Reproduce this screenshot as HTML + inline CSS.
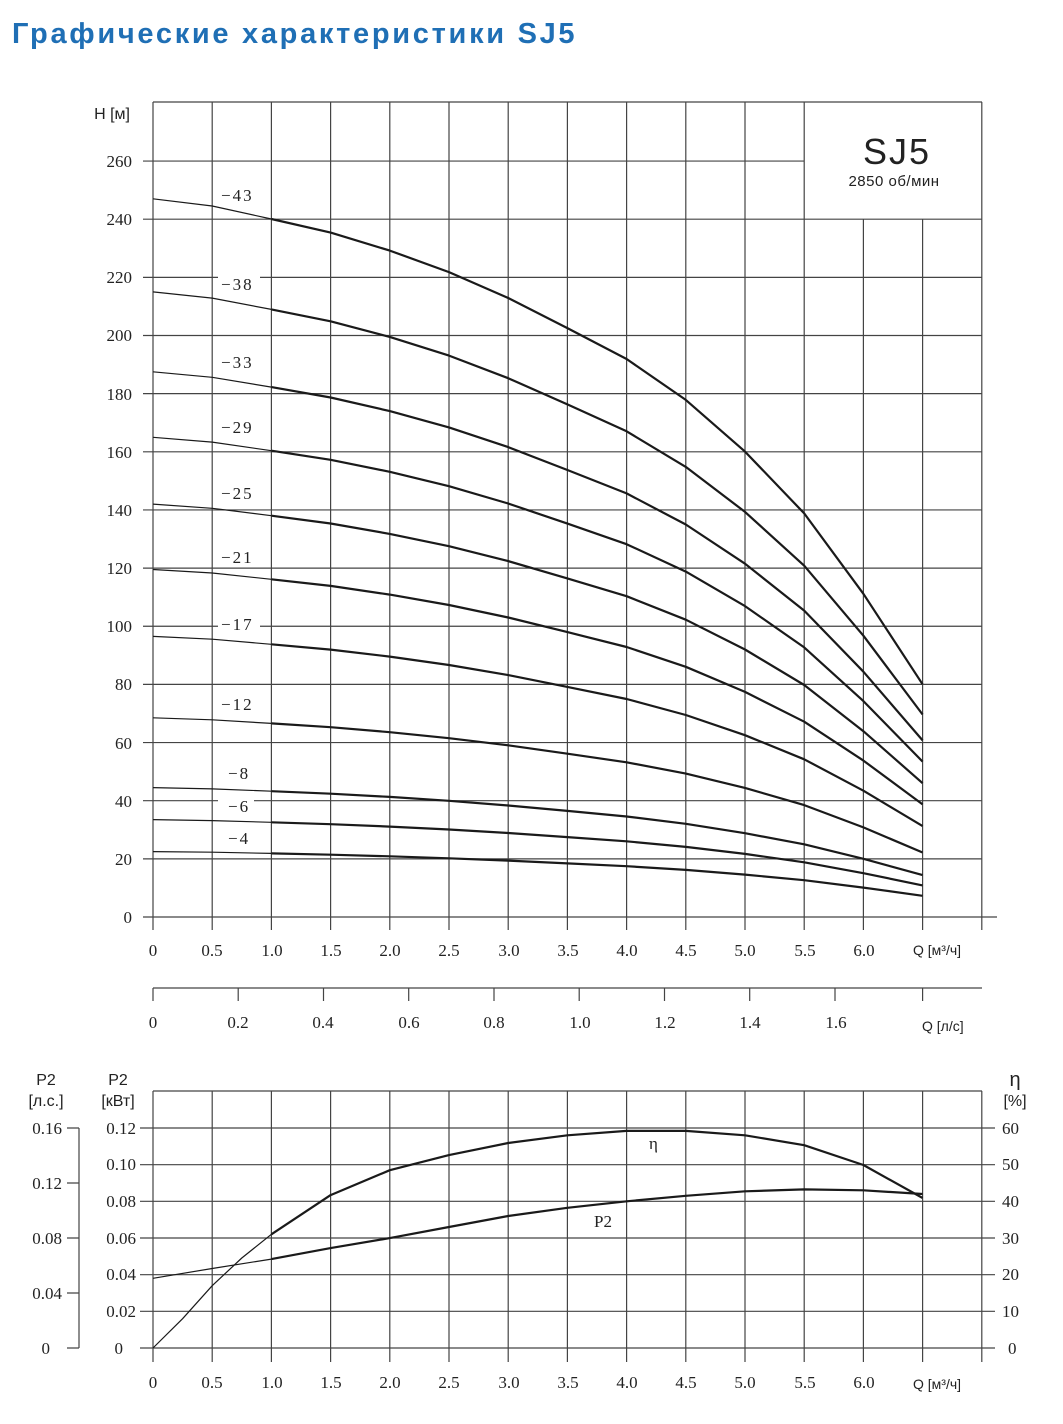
<!DOCTYPE html>
<html><head><meta charset="utf-8"><style>
body{margin:0;background:#fff;width:1063px;height:1424px;overflow:hidden}
svg{display:block}
.s{font-family:"Liberation Serif","DejaVu Serif",serif;font-size:17px;fill:#222}
.a{font-family:"Liberation Sans","DejaVu Sans",sans-serif;fill:#222}
</style></head><body>
<svg width="1063" height="1424" viewBox="0 0 1063 1424" xmlns="http://www.w3.org/2000/svg">
<text x="12" y="43" font-family="'Liberation Sans','DejaVu Sans',sans-serif" font-weight="bold" font-size="29" letter-spacing="2.7" fill="#1f6fb5">Графические характеристики SJ5</text>
<g stroke="#444" stroke-width="1.2" fill="none">
<path d="M153,102H982M153,102V917
M212.2,102V930M271.4,102V930M330.6,102V930M389.8,102V930M449,102V930M508.2,102V930M567.4,102V930M626.6,102V930M685.8,102V930M745,102V930M804.2,102V930M863.4,219V930M922.6,219V930M981.8,102V930
M143,858.85H982M143,800.7H982M143,742.55H982M143,684.4H982M143,626.25H982M143,568.1H982M143,509.95H982M143,451.8H982M143,393.65H982M143,335.5H982M143,277.35H982M143,219.2H982M143,161.05H804.2
M143,917H997M153,917V930
M153,988H982M153,988V1001M238.2,988V1001M323.5,988V1001M408.7,988V1001M494,988V1001M579.2,988V1001M664.5,988V1001M749.7,988V1001M835,988V1001M922.6,988V1001
M153,1091H982M153,1091V1362
M212.2,1091V1362M271.4,1091V1362M330.6,1091V1362M389.8,1091V1362M449,1091V1362M508.2,1091V1362M567.4,1091V1362M626.6,1091V1362M685.8,1091V1362M745,1091V1362M804.2,1091V1362M863.4,1091V1362M922.6,1091V1362M981.8,1091V1362
M140,1348H995M140,1311.3H995M140,1274.7H995M140,1238H995M140,1201.3H995M140,1164.7H995M140,1128H995
M79,1128V1348M67,1128H79M67,1183H79M67,1238H79M67,1293H79M67,1348H79"/>
</g>
<g stroke="#1a1a1a" fill="none" stroke-linejoin="round">
<g stroke-width="1.2">
<polyline points="153,198.8 212.2,206 271.4,219"/>
<polyline points="153,291.9 212.2,298.1 271.4,309.4"/>
<polyline points="153,371.8 212.2,377.3 271.4,387.1"/>
<polyline points="153,437.3 212.2,442.1 271.4,450.7"/>
<polyline points="153,504.1 212.2,508.3 271.4,515.7"/>
<polyline points="153,569.5 212.2,573 271.4,579.3"/>
<polyline points="153,636.4 212.2,639.2 271.4,644.3"/>
<polyline points="153,717.8 212.2,719.8 271.4,723.4"/>
<polyline points="153,787.6 212.2,788.9 271.4,791.2"/>
<polyline points="153,819.6 212.2,820.6 271.4,822.3"/>
<polyline points="153,851.6 212.2,852.2 271.4,853.4"/>
<polyline points="153,1348 182.6,1318.7 212.2,1285.7 241.8,1258 271.4,1234.3"/>
<polyline points="153,1278.3 212.2,1268.5 271.4,1259.1"/>
</g>
<g stroke-width="2.2">
<polyline points="271.4,219 330.6,232.6 389.8,250.6 449,272.1 508.2,298 567.4,328.1 626.6,359 685.8,399.9 745,451.6 804.2,513.4 863.4,593.8 922.6,684.3"/>
<polyline points="271.4,309.4 330.6,321.3 389.8,336.9 449,355.6 508.2,378.2 567.4,404.4 626.6,431.3 685.8,466.9 745,511.9 804.2,565.7 863.4,635.7 922.6,714.5"/>
<polyline points="271.4,387.1 330.6,397.5 389.8,411.1 449,427.4 508.2,447.1 567.4,470 626.6,493.4 685.8,524.5 745,563.7 804.2,610.6 863.4,671.7 922.6,740.4"/>
<polyline points="271.4,450.7 330.6,459.8 389.8,471.8 449,486.2 508.2,503.5 567.4,523.6 626.6,544.2 685.8,571.6 745,606.1 804.2,647.4 863.4,701.1 922.6,761.6"/>
<polyline points="271.4,515.7 330.6,523.5 389.8,533.9 449,546.2 508.2,561.1 567.4,578.4 626.6,596.2 685.8,619.7 745,649.5 804.2,685 863.4,731.2 922.6,783.2"/>
<polyline points="271.4,579.3 330.6,585.9 389.8,594.6 449,605 508.2,617.5 567.4,632.1 626.6,647 685.8,666.8 745,691.9 804.2,721.7 863.4,760.6 922.6,804.4"/>
<polyline points="271.4,644.3 330.6,649.6 389.8,656.6 449,665 508.2,675.1 567.4,686.9 626.6,699 685.8,715 745,735.2 804.2,759.3 863.4,790.7 922.6,826.1"/>
<polyline points="271.4,723.4 330.6,727.2 389.8,732.2 449,738.2 508.2,745.3 567.4,753.7 626.6,762.3 685.8,773.6 745,787.9 804.2,805.1 863.4,827.4 922.6,852.5"/>
<polyline points="271.4,791.2 330.6,793.7 389.8,796.9 449,800.8 508.2,805.5 567.4,810.9 626.6,816.5 685.8,823.8 745,833.2 804.2,844.3 863.4,858.8 922.6,875.1"/>
<polyline points="271.4,822.3 330.6,824.2 389.8,826.6 449,829.5 508.2,833 567.4,837.1 626.6,841.3 685.8,846.9 745,853.9 804.2,862.3 863.4,873.2 922.6,885.4"/>
<polyline points="271.4,853.4 330.6,854.7 389.8,856.3 449,858.3 508.2,860.6 567.4,863.4 626.6,866.2 685.8,869.9 745,874.6 804.2,880.2 863.4,887.6 922.6,895.8"/>
<polyline points="271.4,1234.3 330.6,1195.1 389.8,1170.2 449,1155.1 508.2,1143 567.4,1135.3 626.6,1130.9 685.8,1130.9 745,1135.3 804.2,1145.2 863.4,1165 922.6,1198"/>
<polyline points="271.4,1259.1 330.6,1248.1 389.8,1238.1 449,1227 508.2,1216 567.4,1207.8 626.6,1201.3 685.8,1195.8 745,1191.3 804.2,1189.4 863.4,1190.3 922.6,1194"/>
</g>
</g>
<g fill="#fff">
<rect x="218" y="180" width="42" height="18"/><rect x="218" y="269" width="42" height="18"/><rect x="218" y="347" width="42" height="18"/><rect x="218" y="412" width="42" height="18"/><rect x="218" y="478" width="42" height="18"/><rect x="218" y="542" width="42" height="18"/><rect x="218" y="609" width="42" height="18"/><rect x="218" y="689" width="42" height="18"/><rect x="218" y="758" width="36" height="18"/><rect x="218" y="791" width="36" height="18"/><rect x="218" y="823" width="36" height="18"/>
</g>
<g class="s" letter-spacing="2">
<text x="221" y="201">−43</text><text x="221" y="290">−38</text><text x="221" y="368">−33</text><text x="221" y="433">−29</text><text x="221" y="499">−25</text><text x="221" y="563">−21</text><text x="221" y="630">−17</text><text x="221" y="710">−12</text><text x="228" y="779">−8</text><text x="228" y="812">−6</text><text x="228" y="844">−4</text>
</g>
<rect x="806" y="103" width="175" height="115" fill="#fff"/>
<text x="897" y="164" text-anchor="middle" class="a" font-size="36" letter-spacing="2">SJ5</text>
<text x="894" y="186" text-anchor="middle" class="a" font-size="15" letter-spacing="0.5">2850 об/мин</text>
<text x="130" y="119" text-anchor="end" class="a" font-size="16">H [м]</text>
<g class="s" text-anchor="end">
<text x="132" y="923">0</text><text x="132" y="865">20</text><text x="132" y="807">40</text><text x="132" y="749">60</text><text x="132" y="690">80</text><text x="132" y="632">100</text><text x="132" y="574">120</text><text x="132" y="516">140</text><text x="132" y="458">160</text><text x="132" y="400">180</text><text x="132" y="341">200</text><text x="132" y="283">220</text><text x="132" y="225">240</text><text x="132" y="167">260</text>
</g>
<g class="s" text-anchor="middle">
<text x="153" y="956">0</text><text x="212" y="956">0.5</text><text x="272" y="956">1.0</text><text x="331" y="956">1.5</text><text x="390" y="956">2.0</text><text x="449" y="956">2.5</text><text x="509" y="956">3.0</text><text x="568" y="956">3.5</text><text x="627" y="956">4.0</text><text x="686" y="956">4.5</text><text x="745" y="956">5.0</text><text x="805" y="956">5.5</text><text x="864" y="956">6.0</text>
<text x="153" y="1028">0</text><text x="238" y="1028">0.2</text><text x="323" y="1028">0.4</text><text x="409" y="1028">0.6</text><text x="494" y="1028">0.8</text><text x="580" y="1028">1.0</text><text x="665" y="1028">1.2</text><text x="750" y="1028">1.4</text><text x="836" y="1028">1.6</text>
<text x="153" y="1388">0</text><text x="212" y="1388">0.5</text><text x="272" y="1388">1.0</text><text x="331" y="1388">1.5</text><text x="390" y="1388">2.0</text><text x="449" y="1388">2.5</text><text x="509" y="1388">3.0</text><text x="568" y="1388">3.5</text><text x="627" y="1388">4.0</text><text x="686" y="1388">4.5</text><text x="745" y="1388">5.0</text><text x="805" y="1388">5.5</text><text x="864" y="1388">6.0</text>
</g>
<text x="913" y="955" class="a" font-size="14">Q [м³/ч]</text>
<text x="922" y="1031" class="a" font-size="14">Q [л/с]</text>
<text x="913" y="1389" class="a" font-size="14">Q [м³/ч]</text>
<text x="46" y="1085" text-anchor="middle" class="a" font-size="16">P2</text>
<text x="46" y="1106" text-anchor="middle" class="a" font-size="16">[л.с.]</text>
<text x="118" y="1085" text-anchor="middle" class="a" font-size="16">P2</text>
<text x="118" y="1106" text-anchor="middle" class="a" font-size="16">[кВт]</text>
<text x="1015" y="1086" text-anchor="middle" class="a" font-size="20">η</text>
<text x="1015" y="1106" text-anchor="middle" class="a" font-size="16">[%]</text>
<g class="s" text-anchor="end">
<text x="62" y="1134">0.16</text><text x="62" y="1189">0.12</text><text x="62" y="1244">0.08</text><text x="62" y="1299">0.04</text><text x="50" y="1354">0</text>
<text x="136" y="1134">0.12</text><text x="136" y="1170">0.10</text><text x="136" y="1207">0.08</text><text x="136" y="1244">0.06</text><text x="136" y="1280">0.04</text><text x="136" y="1317">0.02</text><text x="123" y="1354">0</text>
</g>
<g class="s">
<text x="1002" y="1134">60</text><text x="1002" y="1170">50</text><text x="1002" y="1207">40</text><text x="1002" y="1244">30</text><text x="1002" y="1280">20</text><text x="1002" y="1317">10</text><text x="1008" y="1354">0</text>
</g>
<text x="649" y="1149" class="s" font-size="18">η</text>
<text x="594" y="1227" class="s">P2</text>
</svg>
</body></html>
